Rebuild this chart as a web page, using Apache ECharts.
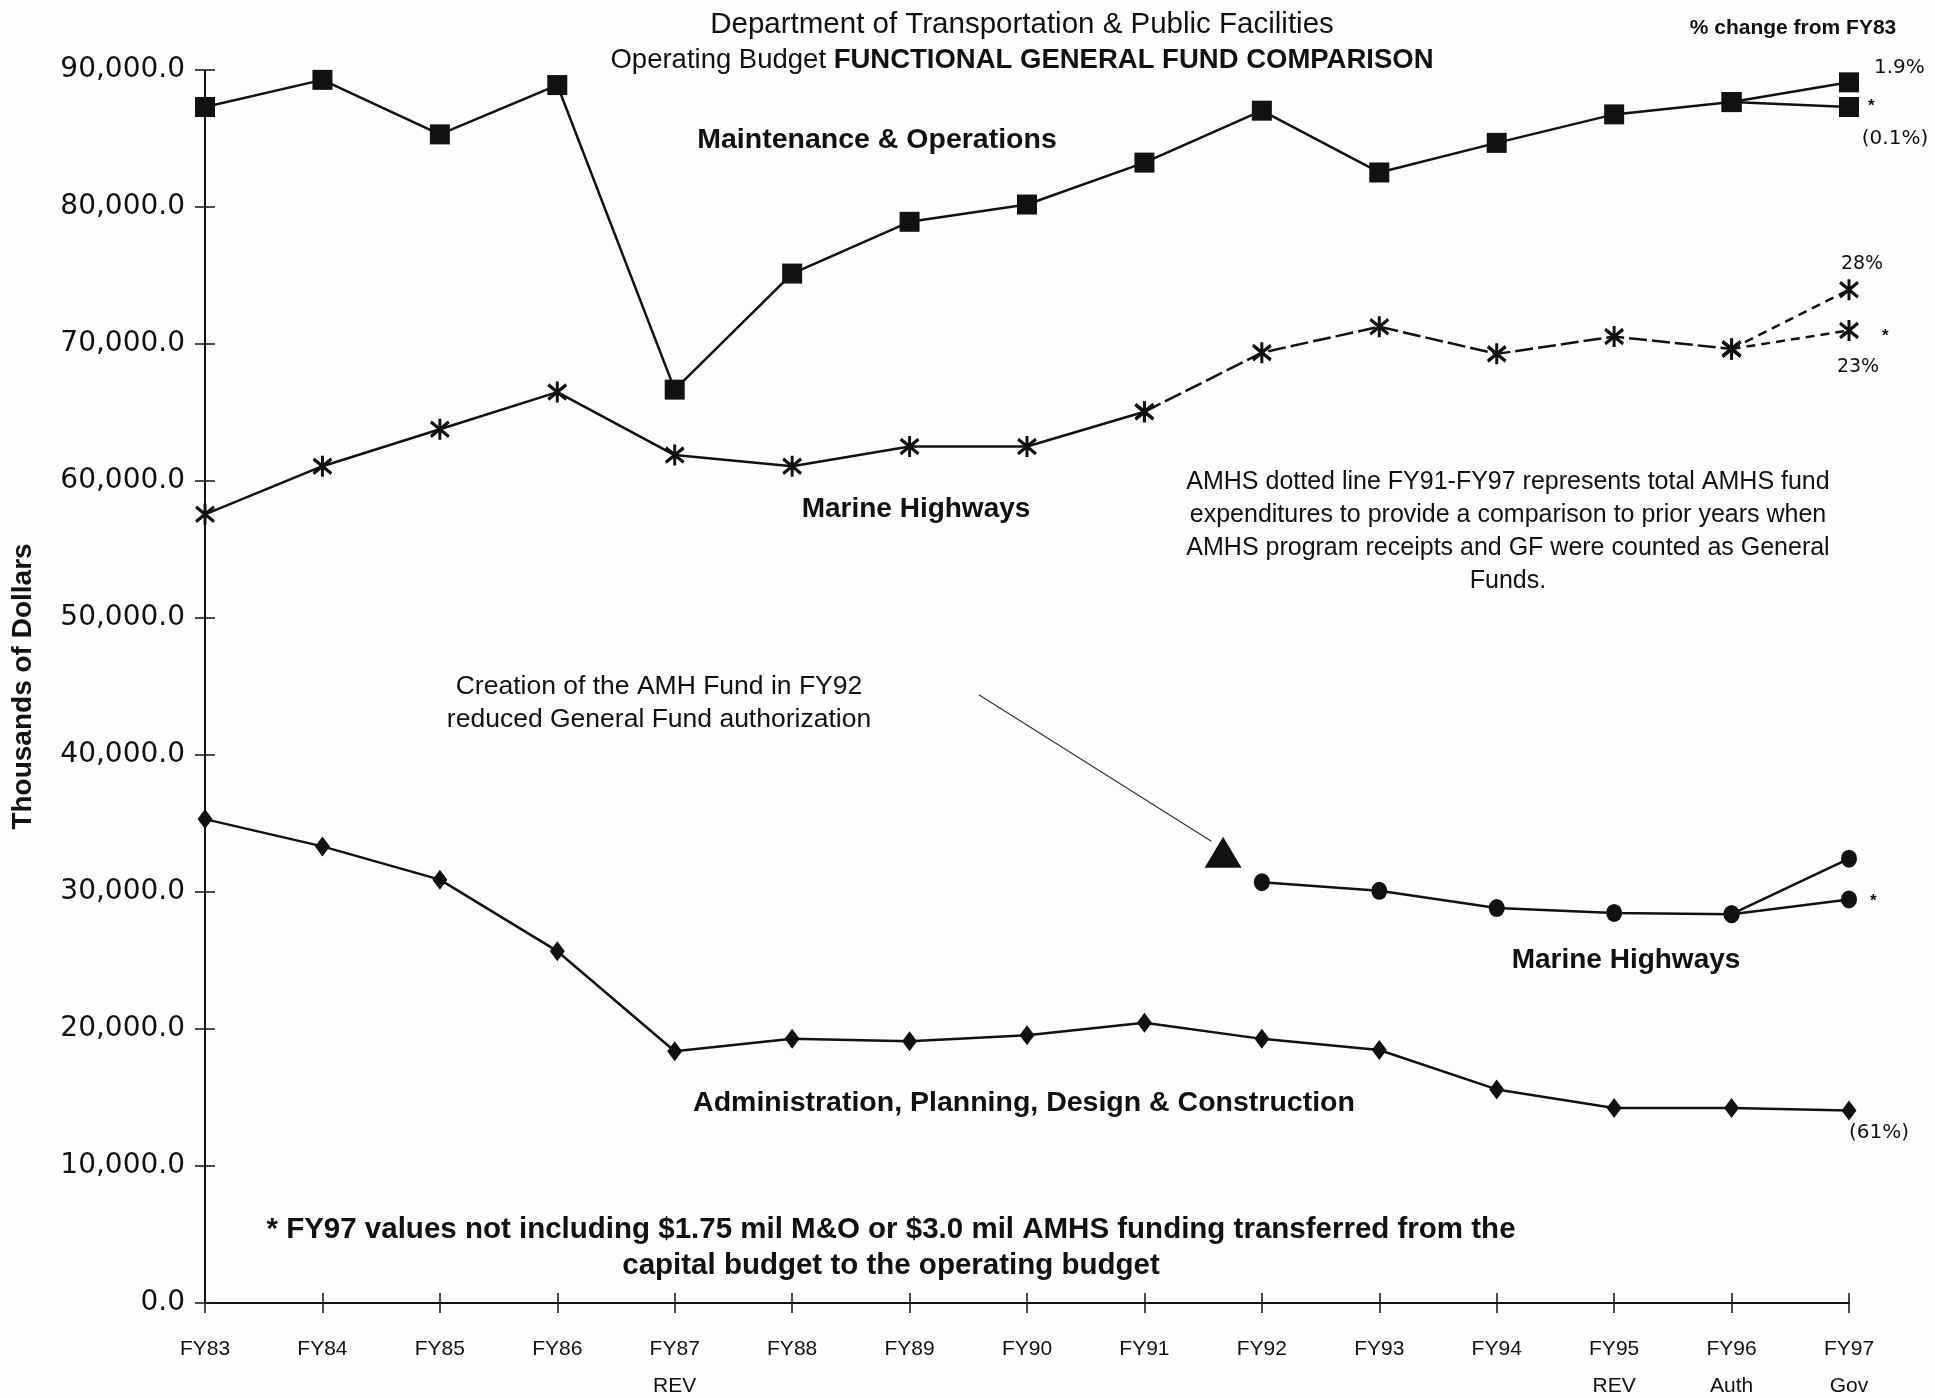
<!DOCTYPE html>
<html>
<head>
<meta charset="utf-8">
<script src="https://cdn.jsdelivr.net/npm/echarts@6/dist/echarts.min.js"></script>
<style>
html, body { margin: 0; background: #fdfdfd; }
#chart { width: 1935px; height: 1398px; }
</style>
</head>
<body>
<div id="chart"></div>
<script>
// categories and tick labels
var years = ['FY83', 'FY84', 'FY85', 'FY86', 'FY87', 'FY88', 'FY89', 'FY90', 'FY91', 'FY92', 'FY93', 'FY94', 'FY95', 'FY96', 'FY97'];
var yearSub = ['', '', '', '', 'REV', '', '', '', '', '', '', '', 'REV', 'Auth', 'Gov'];
var yTicks = [0, 10000, 20000, 30000, 40000, 50000, 60000, 70000, 80000, 90000];

// series values (thousands of dollars), FY97 = value without capital transfer (*)
var maintOps = [87300, 89280, 85300, 88900, 66670, 75140, 78920, 80180, 83240, 87030, 82520, 84680, 86760, 87660, 87300];
var maintOpsFY97Gov = 89100;
var marineTotal = [57570, 61080, 63780, 66490, 61890, 61080, 62520, 62520, 65050, 69370, 71260, 69280, 70540, 69640, 70990];
var marineTotalFY97Gov = 73960;
var marineFund = [null, null, null, null, null, null, null, null, null, 30720, 30090, 28830, 28470, 28380, 29460];
var marineFundFY97Gov = 32430;
var admin = [35320, 33330, 30900, 25680, 18380, 19280, 19100, 19550, 20450, 19280, 18470, 15590, 14230, 14230, 14050];

// annotation arrow (x = category index, y = value)
var arrowLine = [[6.59, 44400], [8.57, 33700]];
var arrowHead = [[8.67, 32900]];

function pts(arr, from, to) {
    var out = [];
    for (var i = from; i <= to; i++) {
        if (arr[i] != null) out.push([i, arr[i]]);
    }
    return out;
}

var ink = '#111';
var asterisk = 'path://M10,0L10,20M1,3L19,17M1,17L19,3';
var font = '"Liberation Sans", Arial, sans-serif';
var wide = '"DejaVu Sans", sans-serif';

var myChart = echarts.init(document.getElementById('chart'));

function lineSeries(data, symbol, size, dash) {
    return {
        type: 'line',
        data: data,
        symbol: symbol,
        symbolSize: size,
        showAllSymbol: true,
        lineStyle: { color: ink, width: 2.5, type: dash || 'solid' },
        itemStyle: symbol === asterisk
            ? { color: 'none', borderColor: ink, borderWidth: 3.2 }
            : { color: ink, borderColor: ink, borderWidth: 0 },
        z: 3
    };
}

function txt(x, y, text, size, bold, align, extra) {
    var t = {
        type: 'text',
        x: x,
        y: y,
        style: {
            text: text,
            font: (bold ? 'bold ' : '') + size + 'px ' + font,
            fill: ink,
            align: align || 'center',
            verticalAlign: 'middle',
            lineHeight: size * 1.4
        }
    };
    if (extra) for (var k in extra) t.style[k] = extra[k];
    return t;
}

var option = {
    backgroundColor: '#fdfdfd',
    animation: false,
    grid: { left: 205, right: 86, top: 70, bottom: 95, outerBoundsMode: 'none', containLabel: false },
    xAxis: [{
        type: 'value',
        min: 0,
        max: 14,
        interval: 1,
        splitLine: { show: false },
        axisLine: { lineStyle: { color: ink, width: 2 } },
        axisTick: { length: 10, lineStyle: { color: ink, width: 1.5 } },
        axisLabel: {
            margin: 28,
            color: ink,
            fontFamily: font,
            fontSize: 21,
            lineHeight: 37,
            formatter: function (v) {
                var i = Math.round(v);
                return years[i] + (yearSub[i] ? '\n' + yearSub[i] : '');
            }
        }
    }, {
        type: 'value',
        min: 0,
        max: 14,
        interval: 1,
        position: 'bottom',
        splitLine: { show: false },
        axisLine: { show: false },
        axisTick: { inside: true, length: 10, lineStyle: { color: ink, width: 1.5 } },
        axisLabel: { show: false }
    }],
    yAxis: [{
        type: 'value',
        min: yTicks[0],
        max: yTicks[yTicks.length - 1],
        interval: 10000,
        splitLine: { show: false },
        axisLine: { lineStyle: { color: ink, width: 2 } },
        axisTick: { length: 10, lineStyle: { color: ink, width: 1.5 } },
        axisLabel: {
            margin: 20,
            color: ink,
            fontFamily: wide,
            fontSize: 28,
            formatter: function (v) {
                return v.toLocaleString('en-US', { minimumFractionDigits: 1, maximumFractionDigits: 1 });
            }
        },
        name: 'Thousands of Dollars',
        nameLocation: 'middle',
        nameRotate: 90,
        nameGap: 168,
        nameTextStyle: { color: ink, fontFamily: font, fontSize: 28, fontWeight: 'bold' }
    }, {
        type: 'value',
        min: yTicks[0],
        max: yTicks[yTicks.length - 1],
        interval: 10000,
        position: 'left',
        splitLine: { show: false },
        axisLine: { show: false },
        axisTick: { inside: true, length: 10, lineStyle: { color: ink, width: 1.5 } },
        axisLabel: { show: false }
    }],
    series: [
        lineSeries(pts(maintOps, 0, 14), 'rect', 20),
        lineSeries([[13, maintOps[13]], [14, maintOpsFY97Gov]], 'rect', 20),
        lineSeries(pts(marineTotal, 0, 8), asterisk, [18, 21]),
        lineSeries(pts(marineTotal, 8, 13), asterisk, [18, 21], [18, 5]),
        lineSeries(pts(marineTotal, 13, 14), asterisk, [18, 21], [9, 6]),
        lineSeries([[13, marineTotal[13]], [14, marineTotalFY97Gov]], asterisk, [18, 21], [9, 6]),
        lineSeries(pts(marineFund, 9, 14), 'circle', [16, 18]),
        lineSeries([[13, marineFund[13]], [14, marineFundFY97Gov]], 'circle', [16, 18]),
        lineSeries(pts(admin, 0, 14), 'diamond', [15, 20]),
        {
            type: 'line',
            data: arrowLine,
            symbol: 'none',
            lineStyle: { color: '#333', width: 1.2 },
            z: 2
        },
        {
            type: 'scatter',
            data: arrowHead,
            symbol: 'triangle',
            symbolSize: [37, 31],
            itemStyle: { color: ink, opacity: 1 },
            z: 3
        }
    ],
    graphic: [
        txt(1022, 25, 'Department of Transportation & Public Facilities', 29.5, false),
        {
            type: 'text',
            x: 1022,
            y: 60,
            style: {
                text: '{n|Operating Budget }{b|FUNCTIONAL GENERAL FUND COMPARISON}',
                align: 'center',
                verticalAlign: 'middle',
                rich: {
                    n: { font: '27.5px ' + font, fill: ink },
                    b: { font: 'bold 27.5px ' + font, fill: ink }
                }
            }
        },
        txt(1793, 28, '% change from FY83', 21, true),
        txt(877, 140, 'Maintenance & Operations', 28.5, true),
        txt(916, 509, 'Marine Highways', 28, true),
        txt(1508, 532, 'AMHS dotted line FY91-FY97 represents total AMHS fund\nexpenditures to provide a comparison to prior years when\nAMHS program receipts and GF were counted as General\nFunds.', 25, false, 'center', { lineHeight: 33 }),
        txt(659, 703, 'Creation of the AMH Fund in FY92\nreduced General Fund authorization', 26.5, false, 'center', { lineHeight: 33 }),
        txt(1626, 960, 'Marine Highways', 28, true),
        txt(1024, 1103, 'Administration, Planning, Design & Construction', 28.5, true),
        txt(891, 1248, '* FY97 values not including $1.75 mil M&O or $3.0 mil AMHS funding transferred from the\ncapital budget to the operating budget', 29.5, true, 'center', { lineHeight: 36 }),
        txt(1874, 68, '1.9%', 20, false, 'left', { font: '20px ' + wide }),
        txt(1868, 106, '*', 17, true, 'left'),
        txt(1895, 139, '(0.1%)', 20, false, 'center', { font: '20px ' + wide }),
        txt(1862, 264, '28%', 19, false, 'center', { font: '19px ' + wide }),
        txt(1882, 336, '*', 17, true, 'left'),
        txt(1858, 367, '23%', 19, false, 'center', { font: '19px ' + wide }),
        txt(1870, 901, '*', 17, true, 'left'),
        txt(1879, 1133, '(61%)', 20, false, 'center', { font: '20px ' + wide })
    ]
};

myChart.setOption(option);
</script>
</body>
</html>
